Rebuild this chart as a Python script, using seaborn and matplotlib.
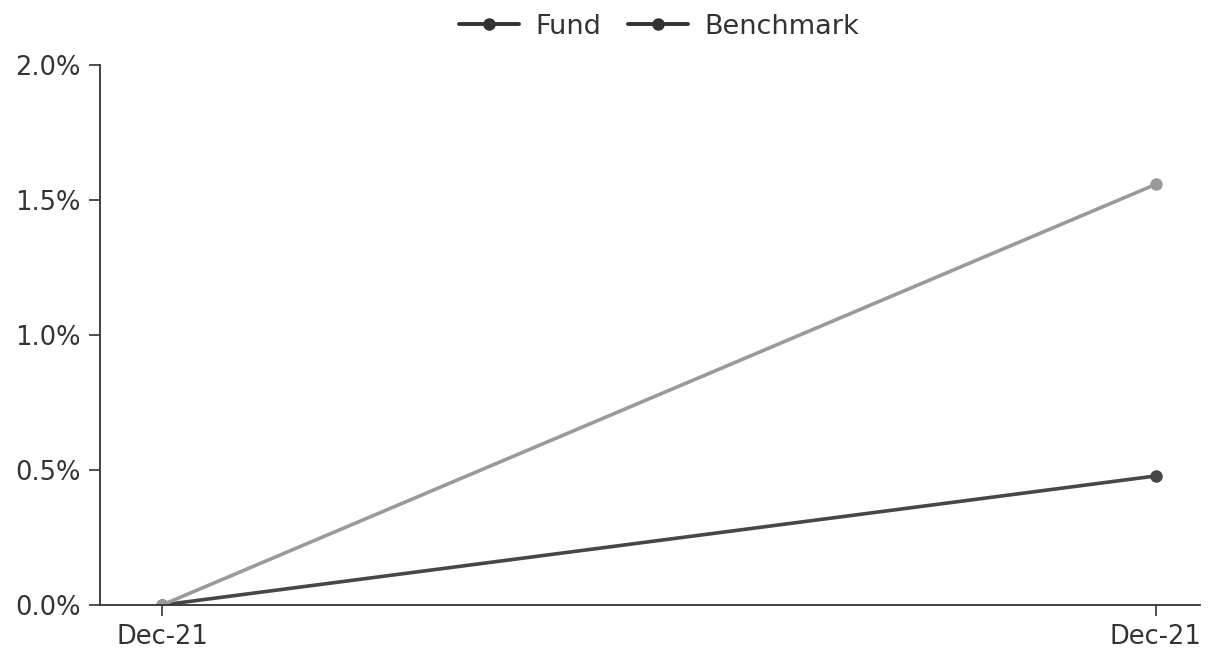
import numpy as np
import pandas as pd
import matplotlib
matplotlib.use("Agg")
import matplotlib.pyplot as plt
import seaborn as sns
from matplotlib.ticker import FuncFormatter

sns.set_theme(style="ticks")
plt.rcParams['font.family'] = ['DejaVu Sans']

# data
dates = ["Dec-21", "Dec-21"]
fund = [0.0, 0.478]
benchmark = [0.0, 1.558]
series_names = ["Fund", "Benchmark"]
colors = {"Fund": "#474747", "Benchmark": "#9a9a9a"}

pos = np.arange(len(dates))
df = pd.DataFrame({
    "pos": np.concatenate([pos, pos]),
    "value": fund + benchmark,
    "series": ["Fund"] * len(fund) + ["Benchmark"] * len(benchmark),
})

fig = plt.figure(figsize=(12.16, 6.6), dpi=100)
ax = fig.add_axes([0.0822, 0.0833, 0.905, 0.8182])

sns.lineplot(data=df, x="pos", y="value", hue="series", hue_order=series_names,
             palette=colors, marker="o", markersize=9, markeredgewidth=0,
             linewidth=2.6, ax=ax, legend=False)

ax.set_xlim(-0.0624, 1.045)
ax.set_ylim(0, 2.0)
ax.set_xticks(pos)
ax.set_xticklabels(dates)
ax.set_yticks([0, 0.5, 1.0, 1.5, 2.0])
ax.yaxis.set_major_formatter(FuncFormatter(lambda v, p: f"{v:.1f}%"))
ax.set_xlabel("")
ax.set_ylabel("")
ax.tick_params(axis="both", labelsize=18.5, colors="#333333", length=8, width=1.2, pad=6)
for s in ["top", "right"]:
    ax.spines[s].set_visible(False)
for s in ["left", "bottom"]:
    ax.spines[s].set_color("#333333")
    ax.spines[s].set_linewidth(1.3)

# legend handles are drawn dark for both series
handles = [plt.Line2D([], [], color="#333333", marker="o", markersize=8, linewidth=2.8)
           for _ in series_names]
ax.legend(handles, series_names, loc="upper center", bbox_to_anchor=(0.508, 1.14),
          ncol=2, frameon=False, fontsize=19.5, handlelength=2.2, columnspacing=1.0,
          handletextpad=0.6, labelcolor="#333333")

fig.savefig("out.png", dpi=100)
